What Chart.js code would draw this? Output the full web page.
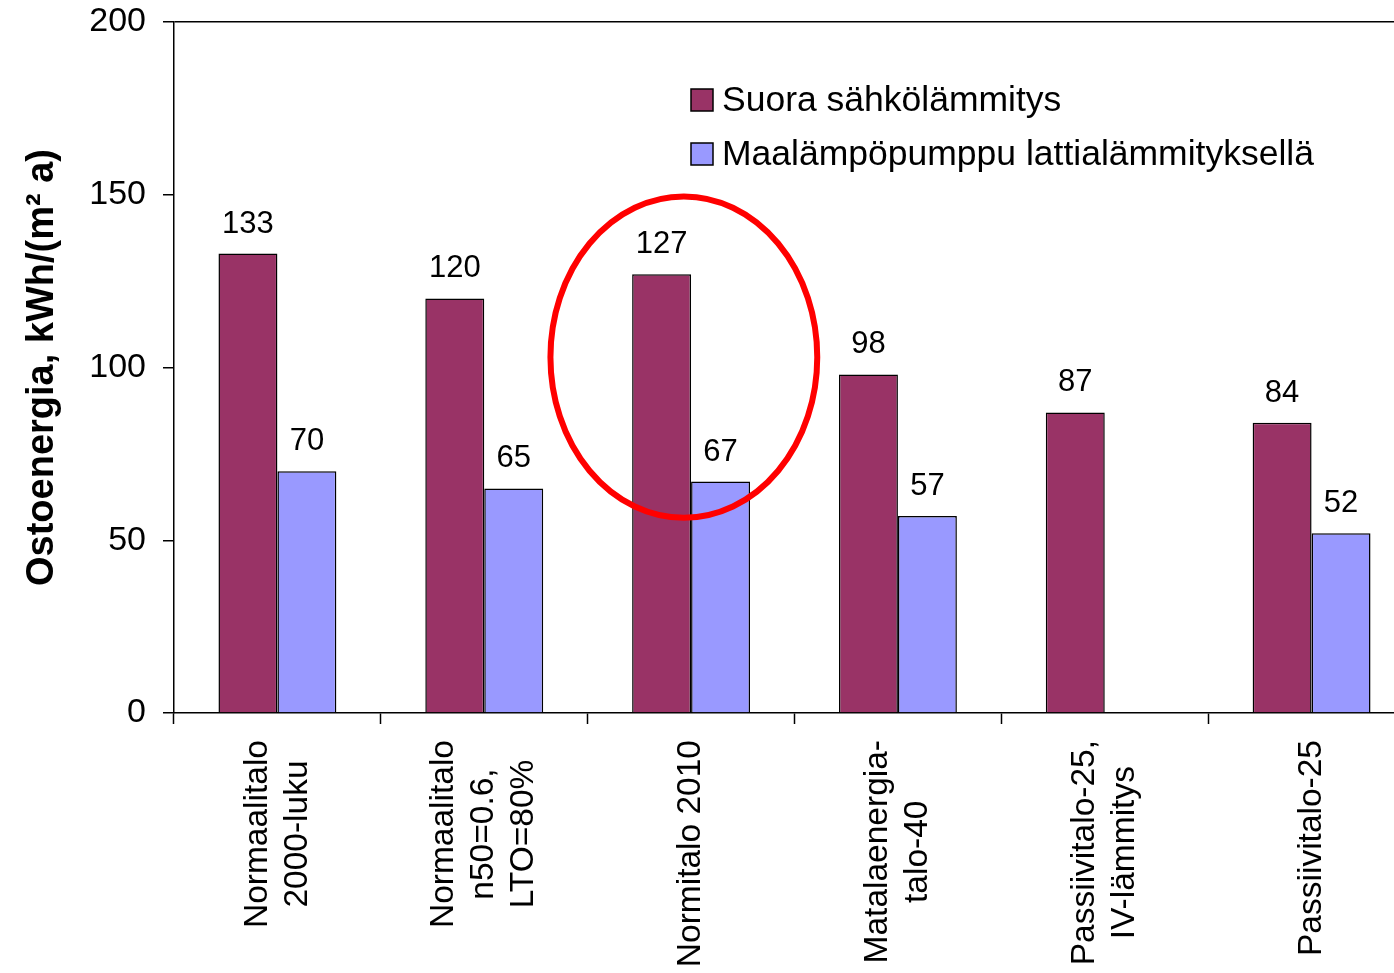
<!DOCTYPE html>
<html>
<head>
<meta charset="utf-8">
<script src="https://cdn.jsdelivr.net/npm/chart.js@4.4.1/dist/chart.umd.min.js"></script>
<style>
  html, body { margin: 0; padding: 0; background: #fff; overflow: hidden; }
  #wrap { position: relative; width: 1416px; height: 973px; }
</style>
</head>
<body>
<div id="wrap"><canvas id="chart"></canvas></div>
<script>
// Categories (multi-line x labels)
const categories = [
    ['Normaalitalo', '2000-luku'],
    ['Normaalitalo', 'n50=0.6,', 'LTO=80%'],
    ['Normitalo 2010'],
    ['Matalaenergia-', 'talo-40'],
    ['Passiivitalo-25,', 'IV-lämmitys'],
    ['Passiivitalo-25']
];
const seriesNames = ['Suora sähkölämmitys', 'Maalämpöpumppu lattialämmityksellä'];
const directElectric = [133, 120, 127, 98, 87, 84];
const groundHeatPump = [70, 65, 67, 57, null, 52];
const yTickValues = [0, 50, 100, 150, 200];
const yTitle = 'Ostoenergia, kWh/(m² a)';

// Highlight ellipse around "Normitalo 2010", in data units (category index / value)
const ellipseX = [1.32, 2.61];
const ellipseY = [56.5, 149.5];

const FONT = 'Arial, "Liberation Sans", sans-serif';

// value labels above each bar
const barLabels = {
    id: 'barLabels',
    afterDatasetsDraw(chart) {
        const ctx = chart.ctx;
        ctx.save();
        ctx.font = '31px ' + FONT;
        ctx.fillStyle = '#000';
        ctx.textAlign = 'center';
        ctx.textBaseline = 'bottom';
        chart.data.datasets.forEach((ds, di) => {
            chart.getDatasetMeta(di).data.forEach((bar, i) => {
                if (ds.data[i] == null) return;
                ctx.fillText(ds.data[i], bar.x, bar.y - 14);
            });
        });
        ctx.restore();
    }
};

// centred, rotated multi-line category labels
const xLabels = {
    id: 'xLabels',
    afterDraw(chart) {
        const ctx = chart.ctx;
        const xs = chart.scales.x;
        const lineH = 40;
        ctx.save();
        ctx.font = '33.5px ' + FONT;
        ctx.fillStyle = '#000';
        ctx.textAlign = 'center';
        ctx.textBaseline = 'middle';
        categories.forEach((lines, i) => {
            const cx = xs.getPixelForValue(i);
            const maxW = Math.max(...lines.map(l => ctx.measureText(l).width));
            const cy = xs.top + 27 + maxW / 2;
            lines.forEach((line, j) => {
                ctx.save();
                ctx.translate(cx + (j - (lines.length - 1) / 2) * lineH, cy);
                ctx.rotate(-Math.PI / 2);
                ctx.fillText(line, 0, 0);
                ctx.restore();
            });
        });
        ctx.restore();
    }
};

// legend inside the plot area
const insideLegend = {
    id: 'insideLegend',
    afterDraw(chart) {
        const ctx = chart.ctx;
        ctx.save();
        ctx.font = '35.5px ' + FONT;
        ctx.textBaseline = 'middle';
        chart.data.datasets.forEach((ds, i) => {
            const y = 100 + i * 54;
            ctx.fillStyle = ds.backgroundColor;
            ctx.fillRect(691, y - 11, 22, 22);
            ctx.strokeStyle = '#000';
            ctx.lineWidth = 1.5;
            ctx.strokeRect(691, y - 11, 22, 22);
            ctx.fillStyle = '#000';
            ctx.fillText(ds.label, 722, y + 1);
        });
        ctx.restore();
    }
};

// red ellipse
const highlight = {
    id: 'highlight',
    afterDraw(chart) {
        const xs = chart.scales.x, ys = chart.scales.y;
        const x0 = xs.getPixelForValue(ellipseX[0]), x1 = xs.getPixelForValue(ellipseX[1]);
        const y0 = ys.getPixelForValue(ellipseY[1]), y1 = ys.getPixelForValue(ellipseY[0]);
        const ctx = chart.ctx;
        ctx.save();
        ctx.strokeStyle = '#ff0000';
        ctx.lineWidth = 6;
        ctx.beginPath();
        ctx.ellipse((x0 + x1) / 2, (y0 + y1) / 2, (x1 - x0) / 2, (y1 - y0) / 2, 0, 0, Math.PI * 2);
        ctx.stroke();
        ctx.restore();
    }
};

new Chart(document.getElementById('chart'), {
    type: 'bar',
    data: {
        labels: categories.map(l => l.join(' ')),
        datasets: [
            { label: seriesNames[0], data: directElectric, backgroundColor: '#993366', borderColor: '#000', borderWidth: 1.5 },
            { label: seriesNames[1], data: groundHeatPump, backgroundColor: '#9999ff', borderColor: '#000', borderWidth: 1.5 }
        ]
    },
    options: {
        responsive: true,
        maintainAspectRatio: false,
        animation: false,
        layout: { padding: { top: 22, right: 1, left: 0, bottom: 0 } },
        datasets: { bar: { categoryPercentage: 0.57, barPercentage: 1.0, borderSkipped: 'start' } },
        plugins: { legend: { display: false }, tooltip: { enabled: false } },
        scales: {
            x: {
                offset: true,
                grid: { offset: true, drawOnChartArea: false, drawTicks: true, tickLength: 11, tickColor: '#000', tickWidth: 1.5 },
                border: { color: '#000', width: 1.5 },
                ticks: { display: false },
                afterFit(scale) { scale.height = 260; }
            },
            y: {
                min: 0,
                max: 200,
                afterBuildTicks(scale) { scale.ticks = yTickValues.map(v => ({ value: v })); },
                grid: {
                    color: c => (c.tick && c.tick.value === 200 ? '#000' : 'rgba(0,0,0,0)'),
                    lineWidth: 1.5,
                    tickColor: '#000',
                    tickWidth: 1.5,
                    tickLength: 11
                },
                border: { color: '#000', width: 1.5 },
                ticks: { font: { family: FONT, size: 34 }, color: '#000', padding: 17 },
                title: {
                    display: true,
                    text: yTitle,
                    font: { family: FONT, size: 38, weight: 'bold' },
                    color: '#000',
                    padding: { top: 20, bottom: 0 }
                },
                afterFit(scale) {
                    scale.width = 174;
                    scale.paddingTop = 0;
                    scale.paddingBottom = 0;
                }
            }
        }
    },
    plugins: [barLabels, xLabels, insideLegend, highlight]
});
</script>
</body>
</html>
